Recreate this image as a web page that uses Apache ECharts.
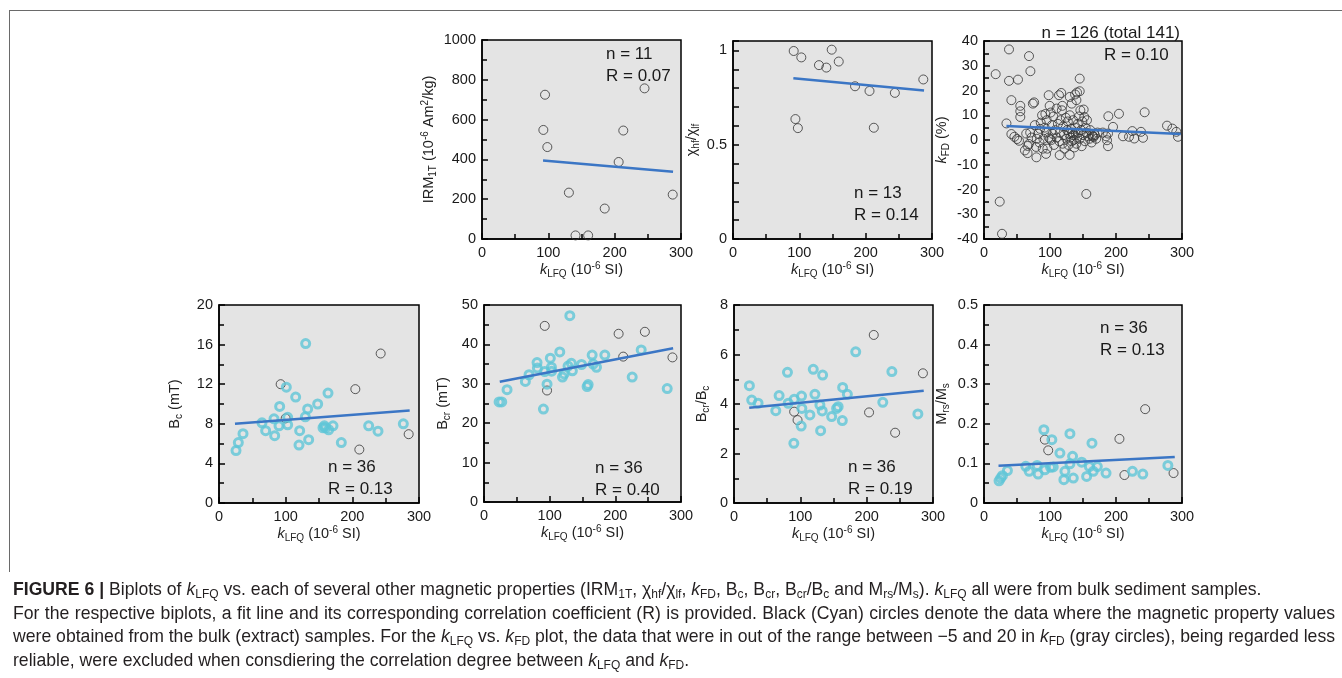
<!DOCTYPE html>
<html><head><meta charset="utf-8">
<script src="https://cdn.jsdelivr.net/npm/echarts@6/dist/echarts.min.js"></script>
<style>
html,body{margin:0;padding:0;background:#fff;width:1342px;height:678px;overflow:hidden;}
#chart{position:absolute;left:0;top:0;width:1342px;height:678px;}
#cap{position:absolute;left:13px;top:578px;font-family:'Liberation Sans',Arial,sans-serif;color:#231f20;font-size:16px;}
#cap div{white-space:nowrap;line-height:23.6px;height:23.6px;}
#cap sub{font-size:68%;vertical-align:-0.28em;line-height:0;}
.frameTop{position:absolute;left:9px;top:10px;width:1333px;border-top:1.5px solid #6a6a6a;}
.frameLeft{position:absolute;left:9px;top:10px;height:562px;border-left:1.5px solid #6a6a6a;}
</style></head><body>
<div class="frameTop"></div><div class="frameLeft"></div>
<div id="chart"></div>
<div id="cap">
<div><span><b>FIGURE 6 |</b> Biplots of <i>k</i><sub>LFQ</sub> vs. each of several other magnetic properties (IRM<sub>1T</sub>, χ<sub>hf</sub>/χ<sub>lf</sub>, <i>k</i><sub>FD</sub>, B<sub>c</sub>, B<sub>cr</sub>, B<sub>cr</sub>/B<sub>c</sub> and M<sub>rs</sub>/M<sub>s</sub>). <i>k</i><sub>LFQ</sub> all were from bulk sediment samples.</span></div>
<div><span>For the respective biplots, a fit line and its corresponding correlation coefficient (R) is provided. Black (Cyan) circles denote the data where the magnetic property values</span></div>
<div><span>were obtained from the bulk (extract) samples. For the <i>k</i><sub>LFQ</sub> vs. <i>k</i><sub>FD</sub> plot, the data that were in out of the range between −5 and 20 in <i>k</i><sub>FD</sub> (gray circles), being regarded less</span></div>
<div><span>reliable, were excluded when consdiering the correlation degree between <i>k</i><sub>LFQ</sub> and <i>k</i><sub>FD</sub>.</span></div>
</div>
<script>
// ---------------- DATA ----------------
const xTicks = { min: 0, max: 300, interval: 100 };
// Panel 1: IRM1T (bulk only)
const irmBulk = [[95,725],[92.5,548],[98.5,462],[131,233],[141,18],[160,18],[185,153],[206,387],[213,545],[245,757],[287.5,223]];
const irmFit = [[92,395],[288,338]];
// Panel 2: chi_hf/chi_lf (bulk only)
const chiBulk = [[91.5,0.997],[103,0.963],[129.6,0.922],[140.7,0.909],[148.8,1.004],[159.4,0.941],[184,0.81],[205.8,0.785],[244,0.775],[286.9,0.846],[94.1,0.636],[97.8,0.588],[212.3,0.59]];
const chiFit = [[91,0.853],[288,0.787]];
// Panel 3: kFD (bulk, incl. out-of-range)
const kfdOut = [[17.7,26.6],[37.9,36.6],[68.2,33.9],[37.9,23.9],[51.5,24.4],[70.3,27.8],[145,24.8],[23.8,-24.9],[27.3,-37.9],[155,-21.8],[79.4,-7.0],[114.7,-6.1],[129.8,-6.0],[66,-5.3],[94,-5.6]];
const kfdIn = [
 [34,6.7],[41.5,16.1],[41.5,2.4],[46,1.3],[50,0.4],[53,-0.3],[55,13.8],[55,11.6],[55,9.3],
 [62,-4.2],[64,2.6],[66,-2.4],[68,-1.6],[70,3],[72,1],[74,14.7],[76,15.2],[77,6],[79,-2.8],[80,0.5],[82,2.5],[84,-1],[85,4.5],[86,7],[88,10],[89,-3.5],[90,0.5],
 [92,5],[93,10.5],[94,3],[95,8],[96,-3.5],[98,18.1],[98,1],[99.5,13.8],[100,0.5],[101,11.1],[102,0],[103,6],[104,2.5],[105,9.5],[106,-2],[108,4],[110,12.7],[110,1],[112,6.5],[113.6,18.1],[114,-0.5],[115,3],[116,8],[117,19],[118,12],[118.7,13.8],[119,-1.5],[120,5.5],[121,2],[122,-3.5],[124,9],[125,0.5],[126,4],[127,7.5],[128,-2],[129,2.5],
 [130,17.4],[130,10],[131,1],[132,4.5],[133,14.7],[133,-0.5],[134,3],[135,2],[135,8],[136,0],[137,-3],[138,18.4],[138,5],[139,2.5],[140,16.1],[140,-1.5],[141,19.2],[141,1],[142,6.5],[143,3],[144,9.5],[145,19.7],[145,0.5],[146,12],[147,4],[148,-2.5],[149,7.5],[150,2],[151,12.3],[152,9.3],[153,-0.5],[154,5],[155,3],[156,8],[158,1.5],[160,0.5],[161,4],[163,-1],[164,2],[165,1.5],[166,1.2],[168,2],[170,0.5],[172,3],
 [180,3],[185,1.5],[186.4,-0.1],[187.9,2.6],[187.9,-2.5],[188.4,9.6],[195.5,5.3],[204.5,10.6],[210.6,1.5],[219.7,1.3],[224.7,3.6],[227.7,0.6],[237.9,3.3],[240.9,0.9],[243.4,11.2],[277.3,5.8],[285.4,4.6],[291.4,3.3],[293.9,1.3]
];
const kfdFit = [[34,5.7],[298,2.4]];
// Panel 4: Bc
const bcExtract = [[25.5,5.3],[29,6.1],[36,7.0],[64.5,8.1],[70,7.3],[82.5,8.5],[83.5,6.8],[91,9.75],[90,7.8],[101,11.7],[103,8.65],[103,7.9],[115,10.7],[121,7.3],[120,5.85],[130,16.1],[129.5,8.7],[133,9.5],[134.5,6.4],[148,10],[156,7.6],[158,7.8],[160,7.6],[163.5,11.1],[164.5,7.4],[171,7.8],[183.5,6.1],[224.5,7.8],[238.5,7.25],[276.5,8.0]];
const bcBulk = [[92.5,12.0],[100,8.55],[204.5,11.5],[210.5,5.4],[242.5,15.1],[284.5,6.95]];
const bcFit = [[24,8.0],[286,9.35]];
// Panel 5: Bcr
const bcrExtract = [[23,25.4],[27,25.4],[35.1,28.5],[63,30.6],[68.6,32.3],[80.8,35.4],[81.3,34],[90.5,23.6],[92.5,33.1],[96,29.9],[101,36.5],[102.7,34.2],[103,33.2],[115.4,38.1],[119.5,31.7],[122,32.5],[130.7,47.3],[128,34.5],[133,35.2],[134.6,33.3],[148.5,34.9],[157,29.3],[158.6,29.8],[164.7,37.3],[166.2,35],[171.3,34.2],[184,37.3],[225.7,31.7],[239.4,38.6],[279,28.8]];
const bcrBulk = [[92.5,44.7],[96,28.3],[205,42.7],[212,36.9],[245,43.2],[287,36.7]];
const bcrFit = [[24,30.5],[288,39.0]];
// Panel 6: Bcr/Bc
const ratioExtract = [[23.2,4.74],[26.7,4.16],[36.3,4.03],[63,3.73],[68,4.34],[80.6,5.28],[81.7,4.03],[90.7,4.19],[90.2,2.41],[101.8,4.32],[102.3,3.82],[101.3,3.11],[114.4,3.56],[119.5,5.4],[122,4.39],[129.5,3.96],[130.6,2.92],[133,3.72],[133.6,5.17],[147.2,3.49],[154.7,3.82],[157,3.89],[163.8,4.67],[163.3,3.33],[170.9,4.39],[183.5,6.11],[224.3,4.07],[238,5.31],[277.2,3.6]];
const ratioBulk = [[90.7,3.69],[95.8,3.35],[210.7,6.79],[203.6,3.66],[242.9,2.84],[284.8,5.24]];
const ratioFit = [[23,3.85],[286,4.54]];
// Panel 7: Mrs/Ms
const mrsExtract = [[22.8,0.056],[25.3,0.063],[27.9,0.069],[35.5,0.082],[63.3,0.0925],[68.4,0.08],[80.5,0.095],[82,0.073],[90.7,0.185],[92.2,0.084],[100.8,0.09],[104.9,0.091],[102.8,0.16],[115,0.126],[121,0.059],[122.6,0.08],[130.2,0.175],[130.2,0.099],[134.2,0.118],[135.3,0.063],[148,0.103],[155.5,0.067],[159.6,0.092],[163.6,0.151],[165.6,0.08],[171.7,0.092],[184.9,0.0756],[224.9,0.08],[240.6,0.073],[278.6,0.095]];
const mrsBulk = [[92.2,0.16],[97.3,0.133],[205.2,0.162],[212.8,0.0706],[244.2,0.237],[287.2,0.0756]];
const mrsFit = [[22,0.094],[289,0.116]];
// Axis titles and annotation texts
const xTitle = '{it|k}{sub|LFQ} (10{sup|-6} SI)';
const yTitles = ['IRM{sub|1T} (10{sup|-6} Am{sup|2}/kg)','χ{sub|hf}/χ{sub|lf}','{it|k}{sub|FD} (%)','B{sub|c} (mT)','B{sub|cr} (mT)','B{sub|cr}/B{sub|c}','M{sub|rs}/M{sub|s}'];
const nTexts = ['n = 11','n = 13','n = 126 (total 141)','n = 36','n = 36','n = 36','n = 36'];
const rTexts = ['R = 0.07','R = 0.14','R = 0.10','R = 0.13','R = 0.40','R = 0.19','R = 0.13'];

// ---------------- LAYOUT / STYLE ----------------
const FONT = "'Liberation Sans', Arial, Helvetica, sans-serif";
const BLUE = '#3b76c5';
const CYAN = '#5fc6d7';
const panels = [
 {grid:[482,40,199,199], y:{min:0,max:1000,interval:200,split:2}, gap:44, bulk:irmBulk, ext:null, fit:irmFit, txt:[606,54,'left'], txt2:[606,76,'left']},
 {grid:[733,41,199,198], y:{min:0,max:1.05,interval:0.1,split:0,labels:[0,0.5,1]}, gap:32, bulk:chiBulk, ext:null, fit:chiFit, txt:[854,193,'left'], txt2:[854,215,'left']},
 {grid:[984,41,198,198], y:{min:-40,max:40,interval:10,split:2}, gap:33, bulk:kfdIn.concat(kfdOut), ext:null, fit:kfdFit, txt:[1180,33,'right'], txt2:[1104,55,'left']},
 {grid:[219,305,200,198], y:{min:0,max:20,interval:4,split:2}, gap:35, bulk:bcBulk, ext:bcExtract, fit:bcFit, txt:[328,467,'left'], txt2:[328,489,'left']},
 {grid:[484,305,197,197], y:{min:0,max:50,interval:10,split:2}, gap:32, bulk:bcrBulk, ext:bcrExtract, fit:bcrFit, txt:[595,468,'left'], txt2:[595,490,'left']},
 {grid:[734,305,199,198], y:{min:0,max:8,interval:2,split:2}, gap:23, bulk:ratioBulk, ext:ratioExtract, fit:ratioFit, txt:[848,467,'left'], txt2:[848,489,'left']},
 {grid:[984,305,198,198], y:{min:0,max:0.5,interval:0.1,split:2}, gap:33, bulk:mrsBulk, ext:mrsExtract, fit:mrsFit, txt:[1100,328,'left'], txt2:[1100,350,'left']}
];
const nameRich = {
 it:{fontStyle:'italic',fontSize:14.5,lineHeight:18,fontFamily:FONT,color:'#222'},
 sub:{fontSize:10,lineHeight:9,verticalAlign:'bottom',fontFamily:FONT,color:'#222'},
 sup:{fontSize:10,lineHeight:9,verticalAlign:'top',fontFamily:FONT,color:'#222'}
};
const nameStyle = {fontFamily:FONT,fontSize:14.5,lineHeight:18,color:'#222',rich:nameRich};
const lineSt = {color:'#000',width:1.5};
const plainNum = v => String(Math.round(v*1e6)/1e6);

const grids=[], xAxes=[], yAxes=[], series=[], graphics=[];
panels.forEach((p,i)=>{
 grids.push({left:p.grid[0],top:p.grid[1],width:p.grid[2],height:p.grid[3],show:true,backgroundColor:'#e4e4e4',borderColor:'#000',borderWidth:1.5,containLabel:false});
 xAxes.push({gridIndex:i,type:'value',min:xTicks.min,max:xTicks.max,interval:xTicks.interval,
  axisLine:{show:true,onZero:false,lineStyle:lineSt},
  axisTick:{show:true,inside:true,length:6,lineStyle:lineSt},
  minorTick:{show:true,splitNumber:2,length:5,lineStyle:lineSt},
  splitLine:{show:false},minorSplitLine:{show:false},
  axisLabel:{fontSize:14.5,color:'#1a1a1a',fontFamily:FONT,margin:6,formatter:plainNum},
  name:xTitle,nameLocation:'middle',nameGap:22,nameTextStyle:nameStyle});
 const ya = {gridIndex:i,type:'value',min:p.y.min,max:p.y.max,interval:p.y.interval,
  axisLine:{show:true,onZero:false,lineStyle:lineSt},
  axisTick:{show:true,inside:true,length:6,lineStyle:lineSt},
  minorTick:{show:p.y.split>0,splitNumber:p.y.split||5,length:5,lineStyle:lineSt},
  splitLine:{show:false},minorSplitLine:{show:false},
  axisLabel:{fontSize:14.5,color:'#1a1a1a',fontFamily:FONT,margin:6,formatter:plainNum},
  name:yTitles[i],nameLocation:'middle',nameGap:p.gap,nameTextStyle:nameStyle};
 if(p.y.labels){
  const keep=p.y.labels;
  ya.axisLabel.formatter=v=>keep.some(k=>Math.abs(k-v)<1e-9)?plainNum(v):'';
  ya.axisLabel.showMaxLabel=true;
 }
 yAxes.push(ya);
 series.push({type:'scatter',xAxisIndex:i,yAxisIndex:i,data:p.bulk,symbol:'circle',symbolSize:9,silent:true,z:2,
  itemStyle:{color:'rgba(0,0,0,0)',borderColor:'#333',borderWidth:1}});
 if(p.ext) series.push({type:'scatter',xAxisIndex:i,yAxisIndex:i,data:p.ext,symbol:'circle',symbolSize:8,silent:true,z:3,
  itemStyle:{color:'rgba(0,0,0,0)',borderColor:CYAN,borderWidth:3}});
 series.push({type:'line',xAxisIndex:i,yAxisIndex:i,data:p.fit,showSymbol:false,silent:true,z:4,
  lineStyle:{color:BLUE,width:2.5}});
 [[p.txt,nTexts[i]],[p.txt2,rTexts[i]]].forEach(([pos,t])=>{
  graphics.push({type:'text',x:pos[0],y:pos[1],z:10,silent:true,
   style:{text:t,fontSize:17,fontFamily:FONT,fill:'#1a1a1a',align:pos[2],verticalAlign:'middle',textAlign:pos[2],textVerticalAlign:'middle'}});
 });
});

const chart = echarts.init(document.getElementById('chart'),null,{renderer:'canvas'});
chart.setOption({animation:false,grid:grids,xAxis:xAxes,yAxis:yAxes,series:series,graphic:graphics});

// caption fitting
(function(){
 const rows = document.querySelectorAll('#cap div span');
 const cap = document.getElementById('cap');
 const w1 = rows[0].getBoundingClientRect().width;
 const fs = 16*1249/w1;
 cap.style.fontSize = fs+'px';
 [1,2].forEach(k=>{
  const s = rows[k];
  const w = s.getBoundingClientRect().width;
  const n = (s.textContent.match(/ /g)||[]).length;
  s.style.wordSpacing = ((1322-w)/n)+'px';
 });
})();
</script>
</body></html>
